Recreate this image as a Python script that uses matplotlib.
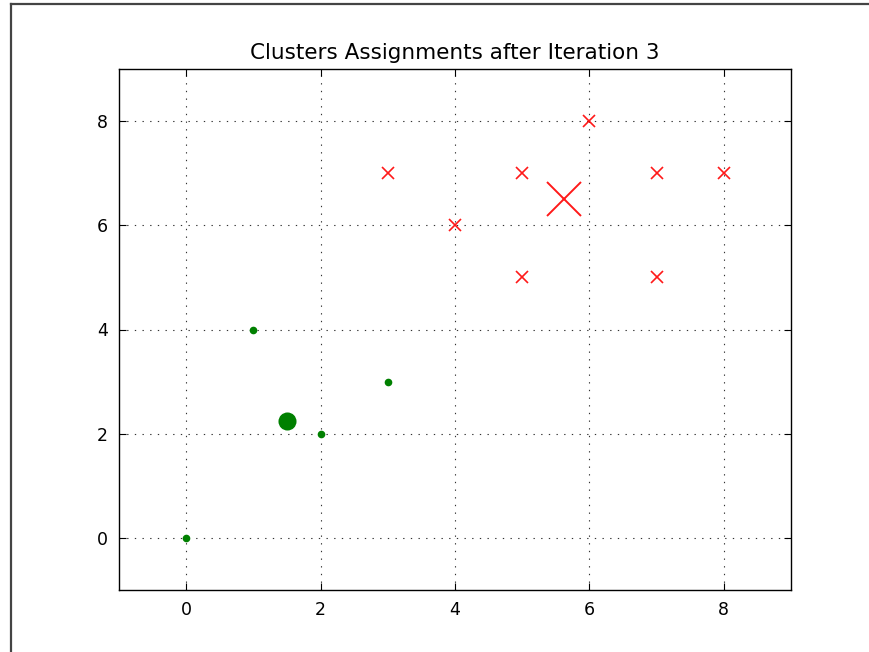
import matplotlib
matplotlib.use("Agg")
import matplotlib.pyplot as plt
from matplotlib.lines import Line2D

green_x = [0, 1, 2, 3]
green_y = [0, 4, 2, 3]
red_x = [3, 4, 5, 5, 6, 7, 7, 8]
red_y = [7, 6, 7, 5, 8, 7, 5, 7]
centroid_green = (1.5, 2.25)
centroid_red = (5.625, 6.5)
ticks = [0, 2, 4, 6, 8]

fig = plt.figure(figsize=(8.69, 6.52), dpi=100)
fig.patch.set_facecolor("white")
ax = fig.add_axes([119/869, 1-590/652, (791-119)/869, (590-69)/652])

ax.plot(green_x, green_y, "o", color="green", markersize=5.5, markeredgewidth=0)
ax.plot([centroid_green[0]], [centroid_green[1]], "o", color="green", markersize=13, markeredgewidth=0)
ax.plot(red_x, red_y, "x", color="red", markersize=9, markeredgewidth=1.2, alpha=0.9)
ax.plot([centroid_red[0]], [centroid_red[1]], "x", color="red", markersize=25, markeredgewidth=1.4, alpha=0.9)

ax.set_xlim(-1, 9)
ax.set_ylim(-1, 9)
ax.set_xticks(ticks)
ax.set_yticks(ticks)
ax.grid(True, color="#333333", linestyle=(0, (1.2, 5.7)), linewidth=0.8)
ax.tick_params(direction="in", top=True, right=True, labelsize=12.5, length=5, pad=8)
for s in ax.spines.values():
    s.set_linewidth(1.0)
ax.set_title("Clusters Assignments after Iteration 3", fontsize=15.5, pad=7.5)

fig.add_artist(Line2D([10.5/869, 10.5/869], [0, 1-3.5/652], transform=fig.transFigure, color="#444444", linewidth=1.6))
fig.add_artist(Line2D([10.5/869, 1], [1-3.5/652, 1-3.5/652], transform=fig.transFigure, color="#444444", linewidth=1.6))

fig.savefig("out.png", dpi=100)
